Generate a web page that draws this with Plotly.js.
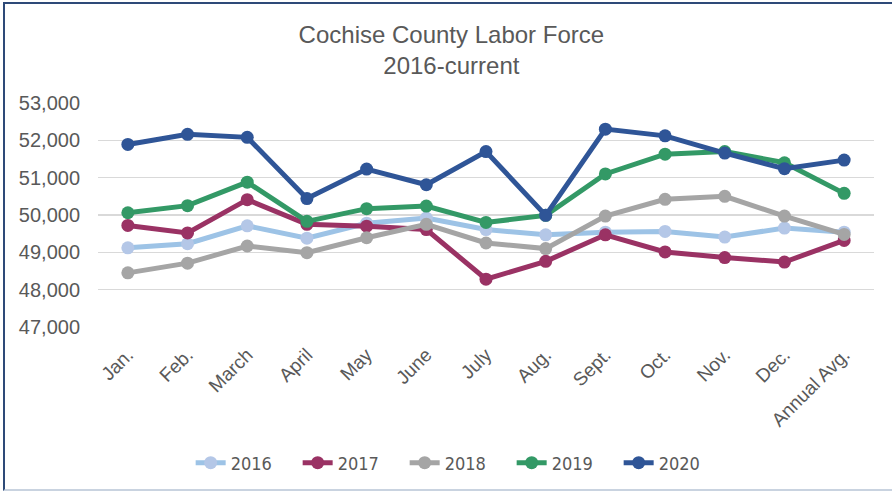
<!DOCTYPE html>
<html>
<head>
<meta charset="utf-8">
<script src="https://cdn.plot.ly/plotly-3.0.1.min.js"></script>
<style>
  html, body { margin: 0; padding: 0; background: #fff; }
  #wrap { position: relative; width: 892px; height: 495px; overflow: hidden; }
  #frame { position: absolute; left: 3px; top: 2px; width: 900px; height: 489px;
           border-top: 2px solid #2E4A78; border-left: 2px solid #2E4A78;
           border-bottom: 2px solid #C9D3E0; box-sizing: border-box; pointer-events: none; z-index: 5; }
  #chart { position: absolute; left: 0; top: 0; width: 892px; height: 495px; }
</style>
</head>
<body>
<div id="wrap">
  <div id="chart"></div>
  <div id="frame"></div>
</div>
<script>
const categories = ["Jan.", "Feb.", "March", "April", "May", "June", "July", "Aug.", "Sept.", "Oct.", "Nov.", "Dec.", "Annual Avg."];
const years = ["2016", "2017", "2018", "2019", "2020"];
const labor2016 = [49120, 49230, 49710, 49380, 49780, 49920, 49610, 49470, 49540, 49560, 49410, 49650, 49540];
const labor2017 = [49720, 49520, 50410, 49750, 49700, 49610, 48280, 48760, 49470, 49010, 48860, 48740, 49320];
const labor2018 = [48450, 48710, 49170, 48990, 49390, 49750, 49250, 49100, 49970, 50420, 50500, 49970, 49480];
const labor2019 = [50060, 50250, 50880, 49830, 50170, 50240, 49800, 49990, 51100, 51630, 51700, 51400, 50580];
const labor2020 = [51890, 52160, 52080, 50440, 51230, 50810, 51700, 49990, 52300, 52120, 51660, 51240, 51470];
const yTicks = [47000, 48000, 49000, 50000, 51000, 52000, 53000];

const seriesValues = [labor2016, labor2017, labor2018, labor2019, labor2020];
const lineColors = ["#9DC3E6", "#9A3264", "#A5A5A5", "#339966", "#2F5597"];
const markerColors = ["#B4C7E7", "#9A3264", "#A5A5A5", "#339966", "#2F5597"];

const traces = years.map((yr, i) => ({
  type: "scatter",
  mode: "lines+markers",
  name: yr,
  x: categories,
  y: seriesValues[i],
  line: { color: lineColors[i], width: 5 },
  marker: { color: markerColors[i], size: 13 },
  hoverinfo: "x+y+name"
}));

const layout = {
  width: 892,
  height: 495,
  paper_bgcolor: "#ffffff",
  plot_bgcolor: "#ffffff",
  margin: { l: 98, r: 18, t: 103, b: 168 },
  font: { family: "Liberation Sans, Arial, sans-serif", color: "#595959" },
  title: {
    text: "Cochise County Labor Force<br>2016-current",
    font: { size: 24, color: "#595959", family: "Liberation Sans, Arial, sans-serif" },
    x: 0.506, xanchor: "center", xref: "container",
    y: 1 - 43 / 495, yanchor: "top", yref: "container",
    pad: { t: 0, b: 0 }
  },
  xaxis: {
    type: "category",
    range: [-0.5, 12.5],
    tickangle: -45,
    tickfont: { size: 19, color: "#595959" },
    ticklabelstandoff: 12,
    showgrid: false,
    showline: false,
    zeroline: false,
    ticks: "",
    fixedrange: true
  },
  yaxis: {
    range: [47000, 53000],
    tickvals: yTicks,
    ticktext: yTicks.map(v => v.toLocaleString("en-US")),
    tickfont: { size: 20, color: "#595959" },
    showgrid: true,
    gridcolor: "#D9D9D9",
    gridwidth: 1.5,
    zeroline: false,
    showline: false,
    ticks: "",
    ticklabelstandoff: 17,
    fixedrange: true
  },
  showlegend: true,
  legend: {
    orientation: "h",
    x: 414 / 892, xanchor: "center",
    y: (495 - 463) / 495, yanchor: "middle", yref: "container",
    font: { family: "Liberation Sans Narrow, DejaVu Sans Condensed, sans-serif", size: 18, color: "#595959" },
    entrywidth: 62,
    entrywidthmode: "pixels",
    itemwidth: 30,
    traceorder: "normal",
    bgcolor: "rgba(0,0,0,0)"
  }
};

Plotly.newPlot("chart", traces, layout, { displayModeBar: false, staticPlot: true });
</script>
</body>
</html>
